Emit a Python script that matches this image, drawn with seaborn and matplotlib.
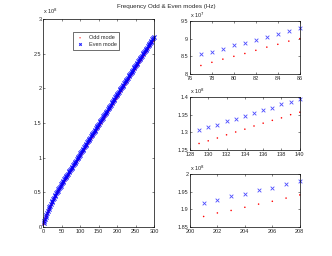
import numpy as np
import matplotlib
matplotlib.use("Agg")
import matplotlib.pyplot as plt
from matplotlib.ticker import FuncFormatter
import seaborn as sns

# ---- data (frequencies in Hz) ----
# main panel: every other mode number, values in units of 1e8 Hz
main_x = list(range(1, 300, 2))
main_odd = [
    0.040, 0.072, 0.100, 0.128, 0.156, 0.183, 0.209, 0.235, 0.259, 0.283,
    0.306, 0.328, 0.350, 0.372, 0.394, 0.415, 0.435, 0.455, 0.475, 0.495,
    0.514, 0.532, 0.550, 0.568, 0.586, 0.604, 0.622, 0.640, 0.656, 0.672,
    0.688, 0.704, 0.720, 0.738, 0.756, 0.773, 0.790, 0.807, 0.824, 0.841,
    0.858, 0.875, 0.892, 0.909, 0.926, 0.944, 0.961, 0.978, 0.995, 1.012,
    1.029, 1.046, 1.063, 1.080, 1.097, 1.115, 1.132, 1.149, 1.166, 1.183,
    1.200, 1.217, 1.234, 1.251, 1.268, 1.284, 1.301, 1.318, 1.335, 1.352,
    1.369, 1.386, 1.403, 1.420, 1.437, 1.454, 1.471, 1.488, 1.505, 1.522,
    1.539, 1.556, 1.573, 1.590, 1.607, 1.624, 1.641, 1.658, 1.675, 1.692,
    1.709, 1.726, 1.743, 1.761, 1.778, 1.795, 1.812, 1.829, 1.846, 1.863,
    1.880, 1.897, 1.915, 1.932, 1.949, 1.965, 1.982, 1.999, 2.015, 2.032,
    2.049, 2.065, 2.082, 2.099, 2.115, 2.132, 2.149, 2.165, 2.182, 2.199,
    2.215, 2.232, 2.249, 2.265, 2.282, 2.299, 2.315, 2.332, 2.349, 2.365,
    2.382, 2.399, 2.415, 2.432, 2.449, 2.465, 2.482, 2.499, 2.515, 2.532,
    2.549, 2.565, 2.582, 2.599, 2.615, 2.632, 2.649, 2.665, 2.682, 2.699,
]
main_even = [
    0.060, 0.093, 0.122, 0.151, 0.180, 0.207, 0.234, 0.261, 0.285, 0.310,
    0.334, 0.356, 0.378, 0.400, 0.423, 0.444, 0.464, 0.485, 0.505, 0.525,
    0.544, 0.562, 0.580, 0.598, 0.616, 0.635, 0.653, 0.671, 0.687, 0.703,
    0.719, 0.735, 0.751, 0.769, 0.787, 0.804, 0.821, 0.838, 0.856, 0.872,
    0.889, 0.907, 0.924, 0.941, 0.958, 0.976, 0.993, 1.010, 1.028, 1.045,
    1.062, 1.080, 1.097, 1.114, 1.132, 1.150, 1.168, 1.185, 1.202, 1.220,
    1.237, 1.254, 1.272, 1.289, 1.306, 1.322, 1.337, 1.354, 1.371, 1.387,
    1.404, 1.422, 1.439, 1.457, 1.474, 1.491, 1.508, 1.526, 1.543, 1.560,
    1.577, 1.595, 1.612, 1.629, 1.646, 1.663, 1.680, 1.697, 1.714, 1.731,
    1.748, 1.765, 1.782, 1.800, 1.817, 1.834, 1.851, 1.868, 1.885, 1.902,
    1.919, 1.937, 1.954, 1.972, 1.988, 2.004, 2.021, 2.038, 2.054, 2.071,
    2.088, 2.104, 2.121, 2.138, 2.154, 2.171, 2.188, 2.204, 2.221, 2.238,
    2.254, 2.271, 2.288, 2.304, 2.321, 2.338, 2.354, 2.371, 2.388, 2.404,
    2.421, 2.438, 2.454, 2.471, 2.488, 2.504, 2.521, 2.538, 2.554, 2.571,
    2.588, 2.604, 2.621, 2.638, 2.654, 2.671, 2.688, 2.704, 2.721, 2.738,
]

# zoom panels
z1_x = [77, 78, 79, 80, 81, 82, 83, 84, 85, 86]
z1_odd = [8.24, 8.33, 8.42, 8.50, 8.58, 8.67, 8.76, 8.84, 8.93, 9.00]       # 1e7
z1_even = [8.556, 8.63, 8.71, 8.81, 8.88, 8.96, 9.06, 9.14, 9.22, 9.31]

z2_x = [129, 130, 131, 132, 133, 134, 135, 136, 137, 138, 139, 140]
z2_odd = [1.2685, 1.276, 1.284, 1.293, 1.301, 1.309, 1.318, 1.326, 1.334, 1.341, 1.350, 1.357]
z2_even = [1.3065, 1.315, 1.322, 1.331, 1.337, 1.346, 1.354, 1.362, 1.370, 1.379, 1.387, 1.395]

z3_x = [201, 202, 203, 204, 205, 206, 207, 208]
z3_odd = [1.880, 1.890, 1.897, 1.906, 1.915, 1.923, 1.932, 1.941]
z3_even = [1.919, 1.927, 1.937, 1.945, 1.954, 1.962, 1.972, 1.979]

sns.set_theme(style="ticks")
plt.rcParams["font.family"] = ["Liberation Sans", "DejaVu Sans"]
plt.rcParams.update({
    "xtick.direction": "in", "ytick.direction": "in",
    "xtick.top": True, "ytick.right": True,
    "xtick.major.size": 1.5, "ytick.major.size": 1.5,
    "xtick.major.width": 0.4, "ytick.major.width": 0.4,
    "xtick.major.pad": 1.2, "ytick.major.pad": 1.2,
    "axes.linewidth": 0.5, "axes.edgecolor": "black",
    "xtick.labelsize": 4, "ytick.labelsize": 4,
})

fig = plt.figure(figsize=(3.32, 2.56), dpi=100)
ax_main = fig.add_axes([0.130, 0.113, 0.334, 0.813])
ax1 = fig.add_axes([0.572, 0.711, 0.331, 0.207])
ax2 = fig.add_axes([0.572, 0.414, 0.331, 0.207])
ax3 = fig.add_axes([0.572, 0.113, 0.331, 0.207])


def draw(ax, xs, odd, even, scale, s_dot, s_x, lw_x, a_x, legend=False):
    sns.scatterplot(x=xs, y=np.array(odd) * scale, ax=ax, color="red", marker=".",
                    s=s_dot, edgecolor="none", clip_on=False,
                    label="Odd mode" if legend else None)
    sns.scatterplot(x=xs, y=np.array(even) * scale, ax=ax, color="blue", marker="x",
                    s=s_x, linewidth=lw_x, alpha=a_x, clip_on=False,
                    label="Even mode" if legend else None)


def fmt(ax, exp, xlim, xticks, ylim, yticks):
    ax.set_xlim(*xlim)
    ax.set_ylim(ylim[0] * 10 ** exp, ylim[1] * 10 ** exp)
    ax.set_xticks(xticks)
    ax.set_yticks([t * 10 ** exp for t in yticks])
    ax.xaxis.set_major_formatter(FuncFormatter(lambda v, p: f"{v:g}"))
    ax.yaxis.set_major_formatter(FuncFormatter(lambda v, p: f"{v / 10 ** exp:g}"))
    ax.text(0.0, 1.015, rf"x 10$^{exp}$", transform=ax.transAxes, fontsize=4,
            ha="left", va="bottom")
    ax.set_xlabel("")
    ax.set_ylabel("")


draw(ax_main, main_x, main_odd, main_even, 1e8, 9, 9, 0.8, 0.85, legend=True)
fmt(ax_main, 8, (0, 300), [0, 50, 100, 150, 200, 250, 300],
    (0, 3), [0, 0.5, 1, 1.5, 2, 2.5, 3])
leg = ax_main.legend(loc="upper left", bbox_to_anchor=(0.27, 0.935), fontsize=4,
                     frameon=True, fancybox=False, edgecolor="black",
                     borderpad=0.5, handletextpad=0.8, handlelength=1.5,
                     labelspacing=0.3, borderaxespad=0, markerscale=0.6)
leg.get_frame().set_linewidth(0.5)

draw(ax1, z1_x, z1_odd, z1_even, 1e7, 5, 7, 0.6, 0.7)
fmt(ax1, 7, (76, 86), [76, 78, 80, 82, 84, 86], (8, 9.5), [8, 8.5, 9, 9.5])

draw(ax2, z2_x, z2_odd, z2_even, 1e8, 5, 7, 0.6, 0.7)
fmt(ax2, 8, (128, 140), [128, 130, 132, 134, 136, 138, 140],
    (1.25, 1.4), [1.25, 1.3, 1.35, 1.4])

draw(ax3, z3_x, z3_odd, z3_even, 1e8, 5, 7, 0.6, 0.7)
fmt(ax3, 8, (200, 208), [200, 202, 204, 206, 208], (1.85, 2.0), [1.85, 1.9, 1.95, 2])

fig.suptitle("Frequency Odd & Even modes (Hz)", fontsize=4.5, y=0.985)

fig.savefig("out.png", dpi=100)
